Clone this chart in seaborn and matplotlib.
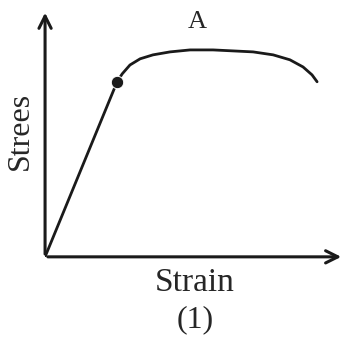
import numpy as np
import pandas as pd
import matplotlib
matplotlib.use("Agg")
import matplotlib.pyplot as plt
import seaborn as sns

# curva tensao-deformacao (unidades arbitrarias, 0-100)
strain_lin = [0.0, 24.1]
stress_lin = [0.0, 70.9]
strain_curve = [24.1, 25.8, 28.4, 31.8, 36.1, 41.8, 48.5, 56.2, 62.9,
                69.6, 76.3, 81.9, 86.3, 89.3, 91.0]
stress_curve = [70.9, 74.1, 77.7, 80.2, 81.8, 83.0, 83.8, 83.8, 83.4,
                83.0, 81.8, 79.8, 76.9, 73.7, 70.9]
yield_pt = (24.1, 70.9)

sns.set_theme(style="white")
plt.rcParams['font.family'] = ['Liberation Serif', 'DejaVu Serif']

fig = plt.figure(figsize=(3.44, 3.42), dpi=100)
ax = fig.add_axes([0.131, 0.249, 0.869, 0.722])
ax.set_xlim(0, 100)
ax.set_ylim(0, 100)

df_lin = pd.DataFrame({'strain': strain_lin, 'stress': stress_lin})
df_cur = pd.DataFrame({'strain': strain_curve, 'stress': stress_curve})
sns.lineplot(data=df_lin, x='strain', y='stress', sort=False, color='k', lw=2, ax=ax)
sns.lineplot(data=df_cur, x='strain', y='stress', sort=False, color='k', lw=2,
             solid_joinstyle='round', solid_capstyle='round', ax=ax)
sns.scatterplot(x=[yield_pt[0]], y=[yield_pt[1]], color='k', s=80, ax=ax, zorder=5)

for s in ax.spines.values():
    s.set_visible(False)
ax.set_xticks([])
ax.set_yticks([])
ax.set_xlabel('')
ax.set_ylabel('')

# eixos com setas
ax.annotate('', xy=(1.0, 0), xytext=(0, 0), xycoords='axes fraction',
            arrowprops=dict(arrowstyle='->', lw=2.2, color='k', mutation_scale=22))
ax.annotate('', xy=(0, 1.0), xytext=(0, 0), xycoords='axes fraction',
            arrowprops=dict(arrowstyle='->', lw=2.2, color='k', mutation_scale=22))

fig.text(197/344, 1 - 22/342, 'A', ha='center', va='center', fontsize=19)
fig.text(20/344, 1 - 131/342, 'Strees', ha='center', va='center', rotation=90, fontsize=23)
fig.text(195/344, 1 - 283/342, 'Strain', ha='center', va='center', fontsize=24)
fig.text(195/344, 1 - 320/342, '(1)', ha='center', va='center', fontsize=23)

fig.savefig('out.png', dpi=100)
